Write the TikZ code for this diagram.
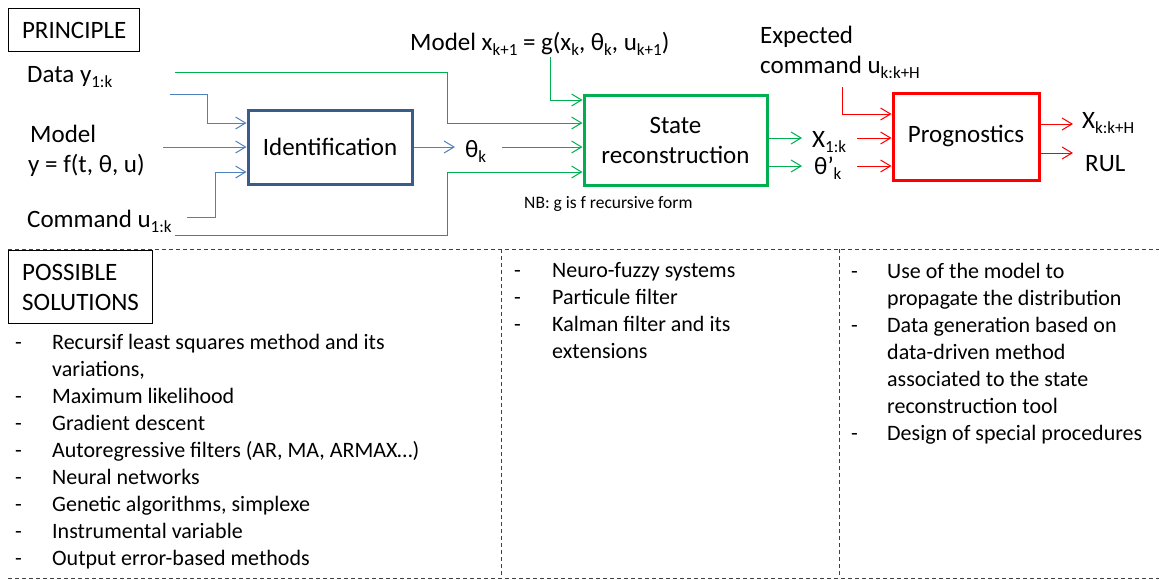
\documentclass[tikz,border=0pt]{standalone}
\usepackage{fontspec}
\setmainfont{Carlito}
\usetikzlibrary{arrows.meta}
\definecolor{cblue}{HTML}{4F81BD}
\definecolor{cbluebox}{HTML}{385D8A}
\definecolor{cgreen}{HTML}{00B050}
\definecolor{cred}{HTML}{FF0000}
\newcommand\sbx[1]{\raisebox{-0.22em}{\fontsize{17}{17}\selectfont #1}}
\begin{document}
\begin{tikzpicture}[x=1pt,y=-1pt,
  lbl/.style={font=\fontsize{25}{30}\selectfont, inner sep=0pt, anchor=base west},
  lst/.style={font=\fontsize{22}{27}\selectfont, inner sep=0pt, anchor=base west},
  hdrbox/.style={draw=black, line width=1.2pt, inner sep=0pt, font=\fontsize{25}{30}\selectfont, align=left, anchor=north west},
  blk/.style={line width=3pt, inner sep=0pt, font=\fontsize{25}{30}\selectfont, align=center},
  conn/.style={line width=1pt, -{Straight Barb[length=10pt,width=12pt,line width=1pt]}},
  bconn/.style={conn, draw=cblue},
  gconn/.style={conn, draw=cgreen},
  rconn/.style={conn, draw=cred},
  sep/.style={draw=black!75, line width=0.9pt, dash pattern=on 4pt off 3pt},
]
\useasboundingbox (0,0) rectangle (1159,579);

% boxes
\node[hdrbox, minimum width=131pt, minimum height=43pt] (principle) at (8,8) {PRINCIPLE};
\node[hdrbox, minimum width=144pt, minimum height=73pt] (possible) at (8,250) {POSSIBLE\\SOLUTIONS};
\node[blk, draw=cbluebox, minimum width=164pt, minimum height=74pt] (id) at (330,147) {Identification};
\node[blk, draw=cgreen, minimum width=183pt, minimum height=90pt] (st) at (675.5,140) {State\\reconstruction};
\node[blk, draw=cred, minimum width=146pt, minimum height=87pt] (pr) at (966,136.5) {Prognostics};

% labels
\node[lbl] (data) at (27,82) {Data y\sbx{1:k}};
\node[lbl] (model) at (30,142) {Model};
\node[lbl] (modeleq) at (28,172) {y = f(t, θ, u)};
\node[lbl] (cmd) at (27,227) {Command u\sbx{1:k}};
\node[lbl] (thk) at (465,157) {θ\sbx{k}};
\node[lbl] (gmodel) at (410,50) {Model x\sbx{k+1} = g(x\sbx{k}, θ\sbx{k}, u\sbx{k+1})};
\node[lbl, font=\fontsize{17.5}{20}\selectfont] (nb) at (524,208) {NB: g is f recursive form};
\node[lbl] (exp1) at (760,43) {Expected};
\node[lbl] (exp2) at (760,73) {command u\sbx{k:k+H}};
\node[lbl] (x1k) at (812,147) {X\sbx{1:k}};
\node[lbl] (thp) at (814,174) {θ’\sbx{k}};
\node[lbl] (xkh) at (1082,128) {X\sbx{k:k+H}};
\node[lbl] (rul) at (1085,171) {RUL};

% free ends
\coordinate (dG) at (175,72);
\coordinate (dB) at (170,94);
\coordinate (mB) at (163,147);
\coordinate (cB) at (187,217);
\coordinate (cG) at (175,235);
\coordinate (thE) at (455,147);
\coordinate (thG) at (502,147);
\coordinate (gG) at (550,57);
\coordinate (xE) at (802,138);
\coordinate (tE) at (802,166);
\coordinate (xR) at (857,138);
\coordinate (tR) at (857,166);
\coordinate (eR) at (842,87);
\coordinate (oX) at (1073,124);
\coordinate (oR) at (1073,153);

% connectors
\draw[bconn] (dB) -| (207,123) -- (207,123 -| id.west);
\draw[bconn] (mB) -- (mB -| id.west);
\draw[bconn] (cB) -| (215,172) -- (215,172 -| id.west);
\draw[bconn] (id.east) -- (thE);
\draw[gconn] (dG) -| (447,123) -- (447,123 -| st.west);
\draw[gconn] (gG) -- (550,100) -- (550,100 -| st.west);
\draw[gconn] (thG) -- (thG -| st.west);
\draw[gconn] (cG) -| (447,172) -- (447,172 -| st.west);
\draw[gconn] (st.east |- xE) -- (xE);
\draw[gconn] (st.east |- tE) -- (tE);
\draw[rconn] (xR) -- (xR -| pr.west);
\draw[rconn] (tR) -- (tR -| pr.west);
\draw[rconn] (eR) -- (842,114) -- (842,114 -| pr.west);
\draw[rconn] (pr.east |- oX) -- (oX);
\draw[rconn] (pr.east |- oR) -- (oR);

% separators
\draw[sep] (8,249) -- (1159,249);
\draw[sep] (8,578) -- (1159,578);
\draw[sep] (501,249) -- (501,578);
\draw[sep] (839,249) -- (839,578);

% lists
\node[lst] (sol1) at (15,349) {\parbox[t]{480pt}{\raggedright
\makebox[37pt][l]{-}Recursif least squares method and its\\
\hspace*{37pt}variations,\\
\makebox[37pt][l]{-}Maximum likelihood\\
\makebox[37pt][l]{-}Gradient descent\\
\makebox[37pt][l]{-}Autoregressive filters (AR, MA, ARMAX…)\\
\makebox[37pt][l]{-}Neural networks\\
\makebox[37pt][l]{-}Genetic algorithms, simplexe\\
\makebox[37pt][l]{-}Instrumental variable\\
\makebox[37pt][l]{-}Output error-based methods}};
\node[lst] (sol2) at (514,277) {\parbox[t]{320pt}{\raggedright
\makebox[38pt][l]{-}Neuro-fuzzy systems\\
\makebox[38pt][l]{-}Particule filter\\
\makebox[38pt][l]{-}Kalman filter and its\\
\hspace*{38pt}extensions}};
\node[lst] (sol3) at (851,278) {\parbox[t]{305pt}{\raggedright
\makebox[36pt][l]{-}Use of the model to\\
\hspace*{36pt}propagate the distribution\\
\makebox[36pt][l]{-}Data generation based on\\
\hspace*{36pt}data-driven method\\
\hspace*{36pt}associated to the state\\
\hspace*{36pt}reconstruction tool\\
\makebox[36pt][l]{-}Design of special procedures}};
\end{tikzpicture}
\end{document}
